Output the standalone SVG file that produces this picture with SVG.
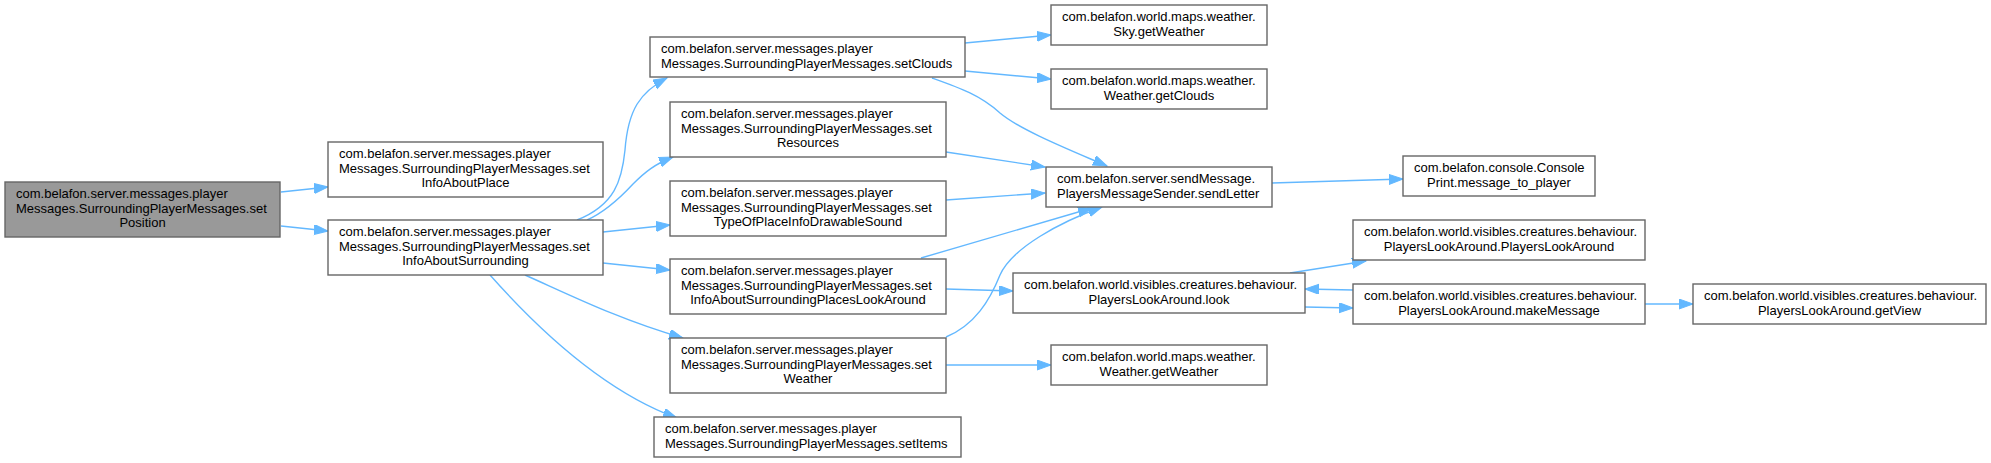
<svg xmlns="http://www.w3.org/2000/svg" width="1991" height="463" viewBox="0 0 1991 463">
<style>
.n rect{fill:#ffffff;stroke:#666666;stroke-width:1.4}
.root rect{fill:#999999}
.n text{font-family:"Liberation Sans",Arial,sans-serif;font-size:13px;fill:#000000}
.m{text-anchor:middle}
.e path{fill:none;stroke:#63b8ff;stroke-width:1.4;marker-end:url(#ah)}
</style>
<defs>
<marker id="ah" markerUnits="userSpaceOnUse" markerWidth="16" markerHeight="12" refX="14" refY="5" orient="auto">
<path d="M0,0 L14,5 L0,10 z" fill="#63b8ff" stroke="#63b8ff" stroke-width="1"/>
</marker>
</defs>
<rect width="1991" height="463" fill="#ffffff"/>
<g id="edges" class="e">
<path d="M281,192 L328,187"/>
<path d="M281,226 L328,231"/>
<path d="M577,220 C615,205 622,180 625,150 C628,110 640,92 667,78"/>
<path d="M587,220 C605,212 620,198 633,184 C645,172 655,164 673,157"/>
<path d="M603,232 L670,225"/>
<path d="M603,263 L670,270"/>
<path d="M525,275 C570,295 620,320 683,338"/>
<path d="M490,275 C530,320 600,390 677,418"/>
<path d="M965,43 L1051,35"/>
<path d="M965,71 L1051,79"/>
<path d="M932,78 C960,88 980,95 1000,113 C1020,130 1070,150 1107,166"/>
<path d="M946,152 L1045,167"/>
<path d="M946,200 L1045,193"/>
<path d="M921,258 L1092,208"/>
<path d="M946,337 C975,325 990,300 1000,275 C1012,248 1060,222 1102,207"/>
<path d="M946,289 L1013,291"/>
<path d="M946,365 L1051,365"/>
<path d="M1272,183 L1403,179"/>
<path d="M1290,273 L1366,261"/>
<path d="M1353,290 L1305,289"/>
<path d="M1305,307 L1353,308"/>
<path d="M1645,304 L1693,304"/>
</g>
<g id="setPosition" class="n root">
<rect x="5" y="182" width="275" height="55"/>
<text x="16" y="198">com.belafon.server.messages.player</text>
<text x="16" y="212.5">Messages.SurroundingPlayerMessages.set</text>
<text class="m" x="142.5" y="227">Position</text>
</g>
<g id="setInfoAboutPlace" class="n">
<rect x="328" y="142" width="275" height="55"/>
<text x="339" y="158">com.belafon.server.messages.player</text>
<text x="339" y="172.5">Messages.SurroundingPlayerMessages.set</text>
<text class="m" x="465.5" y="187">InfoAboutPlace</text>
</g>
<g id="setInfoAboutSurrounding" class="n">
<rect x="328" y="220" width="275" height="55"/>
<text x="339" y="236">com.belafon.server.messages.player</text>
<text x="339" y="250.5">Messages.SurroundingPlayerMessages.set</text>
<text class="m" x="465.5" y="265">InfoAboutSurrounding</text>
</g>
<g id="setClouds" class="n">
<rect x="650" y="37" width="315" height="40"/>
<text x="661" y="53">com.belafon.server.messages.player</text>
<text x="661" y="67.5">Messages.SurroundingPlayerMessages.setClouds</text>
</g>
<g id="setResources" class="n">
<rect x="670" y="102" width="276" height="55"/>
<text x="681" y="118">com.belafon.server.messages.player</text>
<text x="681" y="132.5">Messages.SurroundingPlayerMessages.set</text>
<text class="m" x="808" y="147">Resources</text>
</g>
<g id="setTypeOfPlaceInfoDrawableSound" class="n">
<rect x="670" y="181" width="276" height="55"/>
<text x="681" y="197">com.belafon.server.messages.player</text>
<text x="681" y="211.5">Messages.SurroundingPlayerMessages.set</text>
<text class="m" x="808" y="226">TypeOfPlaceInfoDrawableSound</text>
</g>
<g id="setInfoAboutSurroundingPlacesLookAround" class="n">
<rect x="670" y="259" width="276" height="55"/>
<text x="681" y="275">com.belafon.server.messages.player</text>
<text x="681" y="289.5">Messages.SurroundingPlayerMessages.set</text>
<text class="m" x="808" y="304">InfoAboutSurroundingPlacesLookAround</text>
</g>
<g id="setWeather" class="n">
<rect x="670" y="338" width="276" height="55"/>
<text x="681" y="354">com.belafon.server.messages.player</text>
<text x="681" y="368.5">Messages.SurroundingPlayerMessages.set</text>
<text class="m" x="808" y="383">Weather</text>
</g>
<g id="setItems" class="n">
<rect x="654" y="417" width="307" height="40"/>
<text x="665" y="433">com.belafon.server.messages.player</text>
<text x="665" y="447.5">Messages.SurroundingPlayerMessages.setItems</text>
</g>
<g id="skyGetWeather" class="n">
<rect x="1051" y="5" width="216" height="40"/>
<text x="1062" y="21">com.belafon.world.maps.weather.</text>
<text class="m" x="1159" y="35.5">Sky.getWeather</text>
</g>
<g id="weatherGetClouds" class="n">
<rect x="1051" y="69" width="216" height="40"/>
<text x="1062" y="85">com.belafon.world.maps.weather.</text>
<text class="m" x="1159" y="99.5">Weather.getClouds</text>
</g>
<g id="sendLetter" class="n">
<rect x="1046" y="167" width="226" height="40"/>
<text x="1057" y="183">com.belafon.server.sendMessage.</text>
<text x="1057" y="197.5">PlayersMessageSender.sendLetter</text>
</g>
<g id="messageToPlayer" class="n">
<rect x="1403" y="156" width="192" height="40"/>
<text x="1414" y="172">com.belafon.console.Console</text>
<text class="m" x="1499" y="186.5">Print.message_to_player</text>
</g>
<g id="playersLookAroundCtor" class="n">
<rect x="1353" y="220" width="292" height="40"/>
<text x="1364" y="236">com.belafon.world.visibles.creatures.behaviour.</text>
<text class="m" x="1499" y="250.5">PlayersLookAround.PlayersLookAround</text>
</g>
<g id="look" class="n">
<rect x="1013" y="273" width="292" height="40"/>
<text x="1024" y="289">com.belafon.world.visibles.creatures.behaviour.</text>
<text class="m" x="1159" y="303.5">PlayersLookAround.look</text>
</g>
<g id="makeMessage" class="n">
<rect x="1353" y="284" width="292" height="40"/>
<text x="1364" y="300">com.belafon.world.visibles.creatures.behaviour.</text>
<text class="m" x="1499" y="314.5">PlayersLookAround.makeMessage</text>
</g>
<g id="getView" class="n">
<rect x="1693" y="284" width="293" height="40"/>
<text x="1704" y="300">com.belafon.world.visibles.creatures.behaviour.</text>
<text class="m" x="1839.5" y="314.5">PlayersLookAround.getView</text>
</g>
<g id="weatherGetWeather" class="n">
<rect x="1051" y="345" width="216" height="40"/>
<text x="1062" y="361">com.belafon.world.maps.weather.</text>
<text class="m" x="1159" y="375.5">Weather.getWeather</text>
</g>
</svg>
